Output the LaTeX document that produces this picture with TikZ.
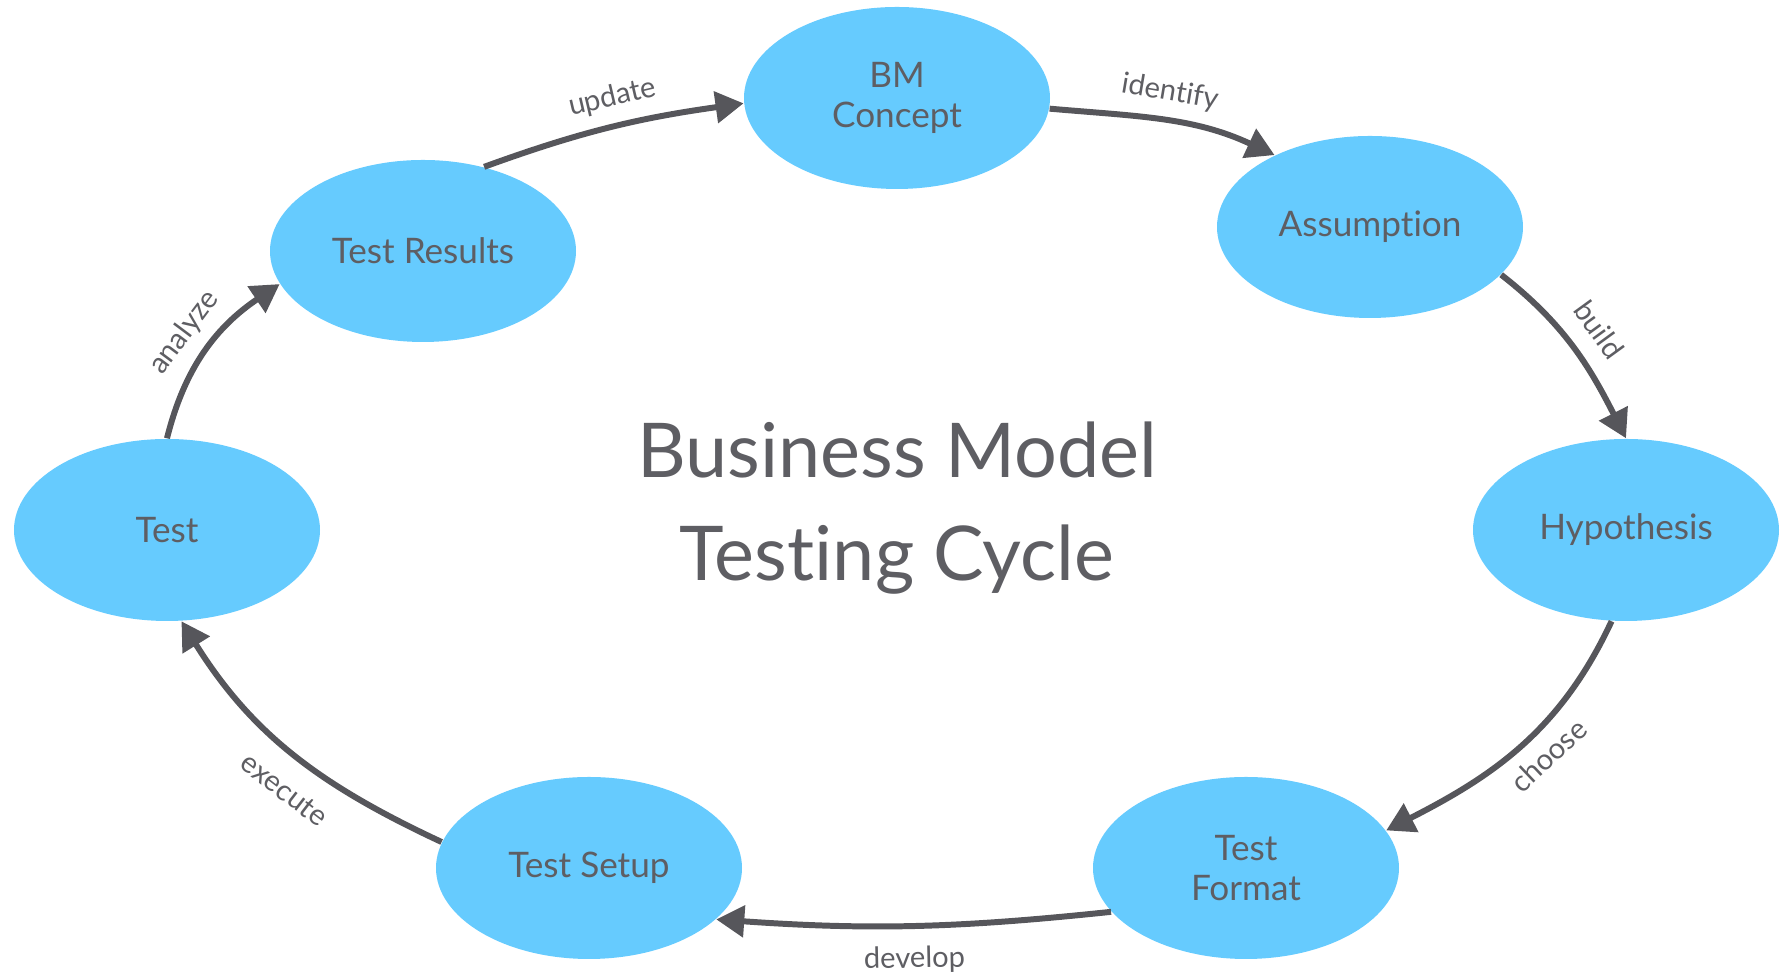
\documentclass[tikz,border=0pt]{standalone}
\usepackage{fontspec}
\setmainfont{Lato}[Ligatures=NoCommon]
\usetikzlibrary{arrows.meta,shapes.geometric}
\definecolor{bubble}{HTML}{66CBFE}
\definecolor{ink}{HTML}{5E5E63}
\definecolor{wire}{HTML}{56565B}

\begin{document}
\begin{tikzpicture}[every node/.style={text=ink}, stage/.style={ellipse, fill=bubble, minimum width=3.06cm, minimum height=1.82cm, inner sep=0pt, align=center, font=\fontsize{10}{11.4}\selectfont}, link/.style={draw=wire, line width=1.7pt, -{Triangle[length=0.28cm, width=0.31cm]}}, verb/.style={font=\fontsize{8.3}{9}\selectfont, sloped, inner sep=3.5pt}]
	\useasboundingbox (0,0) rectangle (17.8,9.76);
	\node[stage] (concept) at (8.97,8.78) {BM\\Concept};
	\node[stage] (assump) at (13.70,7.49) {Assumption};
	\node[stage] (hyp) at (16.26,4.46) {Hypothesis};
	\node[stage] (fmt) at (12.46,1.08) {Test\\Format};
	\node[stage] (setup) at (5.89,1.08) {Test Setup};
	\node[stage] (test) at (1.67,4.46) {Test};
	\node[stage] (res) at (4.23,7.25) {Test Results};
	\node[align=center, font=\fontsize{21.5}{29.3}\selectfont] (title) at (8.97,4.68) {Business Model\\Testing Cycle};
	\draw[link] (concept.-4) to[out=-5, in=155] node[verb, above] {identify} (assump.143);
	\draw[link] (assump.-20) to[out=-38, in=117] node[verb, above, inner sep=5pt] {build} (hyp.90);
	\draw[link] (hyp.-99) to[out=245, in=27] node[verb, below, pos=0.45] {choose} (fmt.15);
	\draw[link] (fmt.198) to[out=186, in=-4] node[verb, below, inner sep=5pt] {develop} (setup.-22);
	\draw[link] (setup.170) to[out=155, in=-58] node[verb, below, inner sep=6pt, pos=0.45] {execute} (test.-81);
	\draw[link] (test.90) to[out=76, in=214] node[verb, above] {analyze} (res.193);
	\draw[link] (res.54) to[out=20, in=188] node[verb, above, pos=0.53] {update} (concept.182);
\end{tikzpicture}
\end{document}
